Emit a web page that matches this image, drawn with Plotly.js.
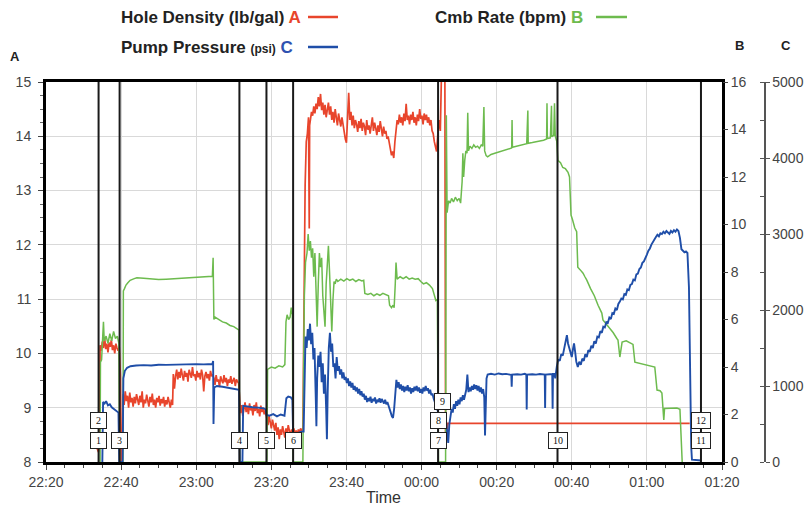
<!DOCTYPE html>
<html>
<head>
<meta charset="utf-8">
<script src="https://cdn.plot.ly/plotly-3.0.1.min.js"></script>
<style>html,body{margin:0;padding:0;background:#fff;}#chart{width:807px;height:508px;}</style>
</head>
<body>
<div id="chart"></div>
<script>
// Time is in minutes after 22:20
const timeTickMinutes = [0, 20, 40, 60, 80, 100, 120, 140, 160, 180];
const timeTickLabels = ['22:20', '22:40', '23:00', '23:20', '23:40', '00:00', '00:20', '00:40', '01:00', '01:20'];

const eventTimes  = [14.0, 14.0, 19.6, 51.5, 58.7, 65.8, 104.4, 104.4, 105.6, 136.2, 174.4, 174.4];
const eventLabels = ['1', '2', '3', '4', '5', '6', '7', '8', '9', '10', '11', '12'];
const eventLineTimes = [14.0, 19.6, 51.5, 58.7, 65.8, 104.4, 136.2, 174.4];

// Hole Density (lb/gal) — axis A  [minute, value]
const holeDensity = [
[13.6,8.25],[14.0,8.18],[14.3,8.3],
[14.4,10.15],[14.7,10.05],[15.0,10.22],[15.3,10.1],[15.6,10.3],[15.9,10.08],[16.2,10.18],[16.5,10.02],[16.8,10.2],[17.1,10.12],[17.4,10.25],[17.7,10.06],[18.0,10.15],[18.3,10.0],[18.6,10.18],[18.9,10.1],[19.2,10.05],[19.5,10.12],
[19.8,9.6],[20.0,8.0],[20.3,8.05],
[20.5,9.25],[20.8,9.05],[21.1,9.3],[21.4,9.12],[21.7,9.22],[22.0,9.0],[22.3,9.28],[22.6,9.1],[22.9,9.18],[23.2,9.02],[23.5,9.2],[23.8,9.08],[24.1,9.25],[24.4,9.12],[24.7,9.05],[25.0,9.22],[25.3,9.1],[25.6,9.3],[25.9,9.0],[26.2,9.15],[26.5,9.08],[26.8,9.24],[27.1,9.12],[27.4,9.02],[27.7,9.2],[28.0,9.1],[28.3,9.26],[28.6,9.05],[28.9,9.15],[29.2,9.0],[29.5,9.18],[29.8,9.1],[30.1,9.22],[30.4,9.04],[30.7,9.16],[31.0,9.08],[31.3,9.2],[31.6,9.02],[31.9,9.14],[32.2,9.06],[32.5,9.2],[32.8,9.1],[33.1,9.0],[33.4,9.15],[33.7,9.05],
[33.9,9.62],[34.2,9.35],[34.5,9.58],[34.8,9.7],[35.1,9.52],[35.4,9.66],[35.7,9.55],[36.0,9.72],[36.3,9.6],[36.6,9.5],[36.9,9.68],[37.2,9.57],[37.5,9.64],[37.8,9.48],[38.1,9.7],[38.4,9.6],[38.7,9.55],[39.0,9.75],[39.3,9.58],[39.6,9.62],[39.9,9.5],[40.2,9.68],[40.5,9.56],[40.8,9.64],[41.1,9.52],[41.4,9.7],[41.7,9.6],[42.0,9.3],[42.3,9.58],[42.6,9.66],[42.9,9.54],[43.2,9.62],[43.5,9.5],[43.8,9.68],[44.1,9.58],[44.4,9.6],
[44.7,9.55],[45.0,9.42],[45.3,9.6],[45.6,9.48],[45.9,9.52],[46.2,9.38],[46.5,9.58],[46.8,9.5],[47.1,9.45],[47.4,9.6],[47.7,9.47],[48.0,9.55],[48.3,9.4],[48.6,9.52],[48.9,9.46],[49.2,9.58],[49.5,9.44],[49.8,9.5],[50.1,9.55],[50.4,9.4],[50.7,9.52],[51.0,9.48],[51.3,9.45],
[51.8,8.9],[52.1,9.05],[52.4,8.85],[52.7,8.98],[53.0,9.1],[53.3,8.92],[53.6,9.02],[53.9,8.88],[54.2,9.08],[54.5,8.95],[54.8,9.0],[55.1,8.86],[55.4,9.05],[55.7,8.94],[56.0,9.1],[56.3,8.9],[56.6,8.98],[56.9,8.84],[57.2,9.04],[57.5,8.92],[57.8,9.0],[58.1,8.88],[58.4,8.95],
[58.8,8.8],[59.1,8.68],[59.4,8.85],[59.7,8.72],[60.0,8.62],[60.3,8.78],[60.6,8.66],[60.9,8.58],[61.2,8.72],[61.5,8.5],[61.8,8.64],[62.1,8.42],[62.4,8.6],[62.7,8.5],[63.0,8.66],[63.3,8.55],[63.6,8.45],[63.9,8.62],[64.2,8.52],[64.5,8.68],[64.8,8.56],[65.1,8.48],[65.4,8.6],[65.7,8.52],[66.0,8.62],[66.3,8.5],[66.6,8.58],[66.9,8.48],[67.2,8.6],[67.5,8.54],[67.8,8.62],[68.1,8.56],
[68.4,8.6],[68.6,10.5],[68.8,12.8],[69.0,13.1],[69.3,13.9],[69.6,14.05],[69.9,14.35],[70.1,12.3],[70.2,14.2],
[70.4,14.3],[70.7,14.45],[71.0,14.38],[71.3,14.55],[71.6,14.42],[71.9,14.6],[72.2,14.5],
[72.5,14.72],[72.8,14.55],[73.1,14.78],[73.4,14.48],[73.7,14.62],[74.0,14.4],
[74.3,14.58],[74.6,14.35],[74.9,14.5],[75.2,14.62],[75.5,14.4],[75.8,14.55],[76.1,14.3],
[76.4,14.45],[76.7,14.25],[77.0,14.5],[77.3,14.35],[77.6,14.2],[77.9,14.42],[78.2,14.3],
[78.5,14.18],[78.8,14.35],[79.1,14.22],[79.4,14.05],[79.7,13.95],[80.0,13.88],
[80.3,14.4],[80.6,14.8],[80.9,14.3],[81.2,14.45],[81.5,14.2],[81.8,14.38],
[82.1,14.15],[82.4,14.3],[82.7,14.22],[83.0,14.08],[83.3,14.28],[83.6,14.15],[83.9,14.32],
[84.2,14.1],[84.5,14.25],[84.8,14.18],[85.1,14.02],[85.4,14.3],[85.7,14.12],[86.0,14.2],
[86.3,14.05],[86.6,14.22],[86.9,14.35],[87.2,14.1],[87.5,14.25],[87.8,14.15],[88.1,14.02],
[88.4,14.2],[88.7,14.08],[89.0,14.28],[89.3,14.12],[89.6,14.0],[89.9,14.18],[90.2,14.05],
[90.5,14.1],[90.8,13.95],[91.1,14.0],[91.4,13.85],[91.7,13.78],[92.0,13.65],[92.3,13.72],
[92.6,13.6],[92.9,13.9],[93.2,14.1],[93.5,14.3],[93.8,14.22],[94.1,14.4],[94.4,14.25],
[94.7,14.35],[95.0,14.2],[95.3,14.42],[95.6,14.28],[95.9,14.6],[96.2,14.3],[96.5,14.38],
[96.8,14.22],[97.1,14.4],[97.4,14.3],[97.7,14.45],[98.0,14.25],[98.3,14.35],[98.6,14.2],
[98.9,14.4],[99.2,14.28],[99.5,14.5],[99.8,14.32],[100.1,14.38],[100.4,14.22],[100.7,14.42],
[101.0,14.3],[101.3,14.4],[101.6,14.25],[101.9,14.35],[102.2,14.2],[102.5,14.3],[102.8,14.1],
[103.1,14.05],[103.4,13.9],[103.7,13.8],[104.0,13.72],
[104.3,14.0],[104.6,14.3],[105.0,14.1],[105.4,15.5],[106.2,15.5],[106.4,8.3],[107.0,8.71],[171.4,8.71]
];

// Cmb Rate (bpm) — axis B  [minute, value]
const cmbRate = [
[14.4,0],[14.5,4.2],[14.8,4.3],[15.1,5.0],[15.3,5.9],[15.5,5.1],[16.0,5.3],[16.5,5.0],[17.0,5.4],[17.5,5.1],[18.0,5.5],[18.5,5.2],[19.0,5.3],[19.4,5.0],[19.6,0],
[20.5,0],[20.6,7.2],[20.9,7.3],[21.3,7.45],[21.8,7.55],[22.4,7.65],[23.5,7.72],[24.2,7.76],[26.0,7.74],[28.0,7.7],[30.0,7.68],[32.0,7.7],[34.0,7.72],[36.0,7.74],[38.0,7.76],[40.0,7.78],[42.0,7.8],[44.3,7.82],[44.5,8.6],[44.7,6.0],[45.0,6.1],[46.0,6.0],[47.0,5.9],[48.0,5.85],[49.0,5.75],[50.0,5.7],[51.0,5.6],[51.4,5.55],[51.6,0],
[58.8,0],[59.0,3.9],[60.0,4.0],[61.0,3.95],[62.0,4.05],[63.0,4.0],[63.6,4.1],[63.9,5.9],[64.2,6.2],[64.6,6.0],[65.0,6.1],[65.3,6.5],[65.6,6.2],[65.8,0],
[68.4,0],[68.6,4.0],[68.8,7.0],[69.1,8.4],[69.5,8.8],[69.8,9.6],[70.1,8.9],[70.4,9.3],[70.7,8.6],[71.0,9.0],[71.3,7.8],[71.6,8.8],[71.9,6.5],[72.2,5.7],[72.5,7.5],[72.8,8.8],[73.1,8.2],[73.4,8.6],[73.7,7.0],[74.0,6.2],[74.3,5.7],[74.6,7.5],[74.9,8.5],[75.2,9.1],[75.5,8.0],[75.8,6.5],[76.1,5.5],[76.4,6.8],[76.7,7.6],[77.0,7.5],[77.3,7.7],
[77.7,7.6],[78.5,7.7],[79.3,7.62],[80.1,7.72],[80.9,7.65],[81.7,7.7],[82.5,7.6],[83.3,7.68],[84.1,7.62],[84.6,7.65],[84.9,7.1],[85.7,7.05],[86.5,7.1],[87.3,7.0],[88.1,7.08],[88.9,7.02],[89.7,7.1],[90.5,7.05],[91.2,7.0],[91.5,6.6],[92.0,6.5],[92.4,6.6],[92.7,6.5],[93.0,7.5],[93.2,8.4],[93.5,7.7],[94.3,7.8],[95.1,7.72],[95.9,7.8],[96.7,7.7],[97.5,7.75],[98.3,7.7],[99.1,7.72],[99.8,7.6],[100.5,7.5],[101.3,7.55],[102.1,7.45],[102.9,7.3],[103.4,7.0],[103.8,6.8],[104.2,6.85],[104.5,0],
[106.4,0],[106.6,14.6],[106.8,10.5],[107.2,11.0],[107.6,10.9],[108.0,11.1],[108.5,10.95],[109.0,11.15],[109.5,11.0],[110.0,11.1],[110.4,10.9],[110.8,11.8],[111.0,13.0],[111.2,12.0],[111.5,12.7],[111.8,13.1],[112.1,13.0],[112.3,14.7],[112.5,13.1],[112.9,13.3],[113.4,13.2],[113.9,13.35],[114.4,13.25],[114.9,13.3],[115.4,13.2],[115.9,13.35],[116.3,13.3],[116.6,14.95],[116.8,13.1],[117.2,12.9],[117.6,12.85],[118.5,12.95],[119.5,13.0],[120.5,13.05],[121.5,13.1],[122.5,13.15],[123.5,13.2],[124.0,13.22],[124.1,14.4],[124.2,13.25],[125.0,13.28],[126.0,13.32],[127.0,13.38],[128.0,13.4],[128.3,14.8],[128.4,13.42],[129.5,13.45],[130.5,13.5],[131.5,13.52],[132.5,13.55],[133.3,13.6],[133.4,15.1],[133.5,13.62],[134.3,13.65],[134.6,15.0],[134.7,13.7],[135.2,13.75],[135.4,15.1],[135.6,13.72],[136.0,13.5],
[136.3,12.7],[137.0,12.6],[137.6,12.4],[138.3,12.35],[139.0,12.2],[139.4,12.0],[139.8,10.4],[140.2,10.2],[140.8,9.85],[141.3,9.7],[141.6,8.2],[142.2,8.1],[143.0,7.95],[143.5,7.8],[144.0,7.66],[145.0,7.3],[146.0,7.0],[147.0,6.6],[148.0,6.27],[148.3,5.98],[149.0,5.85],[150.0,5.65],[151.0,5.45],[152.0,5.2],[152.3,5.14],[152.8,4.42],[153.4,5.05],[154.5,5.1],[155.5,5.0],[156.3,4.95],[156.8,4.2],[158.0,4.15],[159.5,4.1],[161.0,4.05],[162.1,4.0],[162.7,3.03],[163.5,3.0],[164.0,2.9],[164.3,2.19],[164.5,1.77],[164.7,2.25],[166.5,2.25],[168.0,2.27],[168.8,2.22],[169.0,1.5],[169.4,0]
];

// Pump Pressure (psi) — axis C  [minute, value]
const pumpPressure = [
[15.0,0],[15.2,790],[15.6,770],[16.0,800],[16.5,745],[17.0,760],[17.5,720],[18.0,700],[18.5,680],[19.0,665],[19.3,650],[19.5,0],
[20.4,0],[20.6,1100],[21.0,1200],[21.6,1240],[22.5,1260],[24.0,1270],[26.0,1275],[28.0,1270],[30.0,1280],[32.0,1278],[34.0,1282],[36.0,1285],[38.0,1280],[40.0,1288],[42.0,1285],[44.3,1290],
[44.5,1330],[44.6,500],[44.8,980],[45.5,1000],[47.0,990],[49.0,975],[51.0,960],[51.4,950],[51.6,0],
[52.3,0],[52.5,740],[53.5,730],[55.0,720],[56.5,715],[58.0,705],[58.5,690],[58.7,620],[59.5,610],[60.5,630],[61.5,600],[62.5,625],[63.5,610],[64.0,840],[64.5,860],[65.2,850],[65.6,820],[65.8,380],[67.0,380],[68.0,400],
[68.6,400],[68.9,1200],[69.1,1650],[69.4,1500],[69.7,1750],[70.0,1600],[70.3,1820],[70.6,1550],[70.9,1700],[71.2,1350],[71.5,1500],[71.8,900],[72.0,470],[72.2,1100],[72.5,1400],[72.8,1250],[73.1,1450],[73.4,1050],[73.7,1300],[74.0,900],[74.3,1150],[74.6,700],[74.8,300],[75.0,900],[75.3,1500],[75.6,1700],[75.9,1450],[76.2,1560],[76.5,1250],[76.8,1300],[77.1,1100],[77.4,1380],
[77.7,1200],[78.0,1260],[78.3,1150],[78.6,1220],[78.9,1100],[79.2,1180],[79.5,1080],[79.8,1120],[80.1,1040],[80.4,1100],[80.7,1000],[81.0,1060],[81.3,980],[81.6,1040],[81.9,950],[82.2,1000],[82.5,930],[82.8,980],[83.1,900],[83.4,960],[83.7,880],[84.0,930],[84.3,860],[84.6,900],
[84.9,820],[85.2,870],[85.5,790],[85.8,840],[86.1,800],[86.4,860],[86.7,780],[87.0,830],[87.3,800],[87.6,850],[87.9,770],[88.2,820],[88.5,790],[88.8,840],[89.1,780],[89.4,830],[89.7,800],[90.0,770],[90.3,820],[90.6,760],[90.9,790],[91.2,730],[91.5,700],[91.8,650],[92.1,600],[92.4,580],[92.7,700],
[93.0,950],[93.3,1080],[93.6,980],[93.9,1050],[94.2,960],[94.5,1020],[94.8,940],[95.1,1000],[95.4,920],[95.7,990],[96.0,940],[96.3,1010],[96.6,930],[96.9,980],[97.2,900],[97.5,970],[97.8,920],[98.1,990],[98.4,940],[98.7,1000],[99.0,930],[99.3,980],[99.6,910],[99.9,960],[100.2,900],[100.5,980],[100.8,930],[101.1,1000],[101.4,940],[101.7,970],[102.0,900],[102.3,950],[102.6,880],[102.9,900],[103.2,840],[103.5,800],[103.8,760],[104.1,720],
[104.4,680],[104.8,600],[105.2,650],[105.6,520],[106.0,450],[106.4,600],[106.8,380],[107.1,250],[107.4,500],[107.7,620],
[108.0,700],[108.3,650],[108.6,760],[108.9,700],[109.2,800],[109.5,740],[109.8,820],[110.1,760],[110.4,850],[110.7,800],[111.0,880],[111.3,820],[111.6,900],[111.9,950],[112.2,1150],[112.5,920],[112.8,980],[113.1,930],[113.4,1000],[113.7,950],[114.0,1020],[114.3,960],[114.6,1010],[114.9,940],[115.2,1000],[115.5,920],[115.8,980],[116.1,900],[116.4,960],[116.7,850],[116.9,350],[117.1,700],[117.3,1100],
[117.6,1150],[118.5,1160],[119.5,1150],[120.5,1165],[121.5,1155],[122.5,1160],[123.5,1150],[123.9,1145],[124.0,990],[124.1,1150],[125.5,1155],[126.5,1150],[127.5,1160],[127.9,1150],[128.0,690],[128.1,1150],[129.5,1155],[130.5,1150],[131.5,1158],[132.5,1150],[132.8,1150],[132.9,710],[133.0,1150],[134.2,1155],[134.8,1155],[134.9,700],[135.0,1160],[135.4,1160],[135.6,1100],
[136.0,1250],[136.4,1350],[136.8,1330],[137.2,1420],[137.6,1400],[138.0,1520],[138.4,1600],[138.7,1670],[139.0,1560],[139.3,1500],[139.6,1430],[140.0,1380],[140.3,1480],[140.6,1560],[140.9,1450],[141.2,1320],[141.6,1250],[142.0,1320],[142.4,1280],[142.8,1360],[143.2,1330],
[143.6,1420],[144.0,1380],[144.4,1470],[144.8,1450],[145.2,1530],[145.6,1500],[146.0,1590],[146.4,1560],[146.8,1650],[147.2,1640],[147.6,1720],[148.0,1700],[148.4,1780],[148.8,1770],[149.2,1840],[149.6,1830],[150.0,1900],[150.4,1880],[150.8,1960],[151.2,1950],[151.6,2020],[152.0,2000],[152.4,2080],[152.8,2110],[153.2,2150],[153.6,2140],[154.0,2210],[154.4,2200],[154.8,2270],[155.2,2260],[155.6,2330],[156.0,2340],[156.4,2400],[156.8,2390],[157.2,2470],[157.6,2480],[158.0,2540],[158.4,2560],[158.8,2620],[159.2,2640],[159.6,2700],[160.0,2730],[160.4,2780],[160.8,2810],[161.2,2860],[161.6,2900],[162.0,2930],[162.4,2960],[162.8,2990],[163.2,2970],[163.6,3010],[164.0,3000],[164.4,3030],[164.8,3010],[165.2,3040],[165.6,3020],[166.0,3000],[166.4,3040],[166.8,3020],[167.2,3050],[167.6,3030],[168.0,3060],[168.4,3040],[168.8,2950],[169.2,2800],[169.6,2780],[170.0,2760],[170.4,2770],[170.8,2750],[171.2,2300],[171.5,1000],[171.8,200],[172.0,30],[174.5,20]
];

const RED = '#e8452c', GREEN = '#6dbb4e', BLUE = '#1f4ea8';
const FONT = 'Liberation Sans, Arial, sans-serif';

const traces = [
  {x: cmbRate.map(p => p[0]), y: cmbRate.map(p => p[1]), yaxis: 'y2', type: 'scatter', mode: 'lines',
   line: {color: GREEN, width: 1.5}, hoverinfo: 'skip'},
  {x: pumpPressure.map(p => p[0]), y: pumpPressure.map(p => p[1]), yaxis: 'y3', type: 'scatter', mode: 'lines',
   line: {color: BLUE, width: 1.9}, hoverinfo: 'skip'},
  {x: holeDensity.map(p => p[0]), y: holeDensity.map(p => p[1]), yaxis: 'y', type: 'scatter', mode: 'lines',
   line: {color: RED, width: 1.7}, hoverinfo: 'skip'}
];

const plotW = 807 - 46 - 10;
const px = v => (v - 46) / plotW;         // page pixel -> paper x
const py = v => (462 - v) / 380;          // page pixel -> paper y

const shapes = eventLineTimes.map(t => ({
  type: 'line', xref: 'x', yref: 'paper', x0: t, x1: t, y0: 0, y1: 1,
  line: {color: '#1a1a1a', width: 2}, layer: 'above'
}));
shapes.push(
  {type: 'line', xref: 'paper', yref: 'paper', x0: px(308), x1: px(338), y0: py(17), y1: py(17), line: {color: RED, width: 2.5}},
  {type: 'line', xref: 'paper', yref: 'paper', x0: px(308), x1: px(338), y0: py(47), y1: py(47), line: {color: BLUE, width: 2.5}},
  {type: 'line', xref: 'paper', yref: 'paper', x0: px(596), x1: px(627), y0: py(17), y1: py(17), line: {color: GREEN, width: 2.5}}
);

const boxLevels = [8.405, 8.76, 8.405, 8.405, 8.405, 8.405, 8.405, 8.76, 9.11, 8.405, 8.405, 8.76];
const annotations = eventLabels.map((lab, i) => ({
  x: eventTimes[i], y: boxLevels[i], xref: 'x', yref: 'y', text: lab, showarrow: false,
  font: {family: 'Liberation Serif, Times New Roman, serif', size: 10, color: '#111'},
  bgcolor: '#ffffff', bordercolor: '#222', borderwidth: 1, borderpad: 1,
  width: lab.length > 1 ? 16 : 13, height: 13
}));
const legFont = {family: FONT, size: 17, color: '#222'};
annotations.push(
  {xref: 'paper', yref: 'paper', x: px(303), y: py(17), xanchor: 'right', yanchor: 'middle', showarrow: false,
   text: "<b>Hole Density (lb/gal) <span style='color:" + RED + "'>A</span></b>", font: legFont},
  {xref: 'paper', yref: 'paper', x: px(295), y: py(47), xanchor: 'right', yanchor: 'middle', showarrow: false,
   text: "<b>Pump Pressure <span style='font-size:12px'>(psi)</span> <span style='color:#2e52b0'>C</span></b>", font: legFont},
  {xref: 'paper', yref: 'paper', x: px(585), y: py(17), xanchor: 'right', yanchor: 'middle', showarrow: false,
   text: "<b>Cmb Rate (bpm) <span style='color:" + GREEN + "'>B</span></b>", font: legFont},
  {xref: 'paper', yref: 'paper', x: px(15), y: py(57), xanchor: 'center', yanchor: 'middle', showarrow: false,
   text: '<b>A</b>', font: {family: FONT, size: 13, color: '#222'}},
  {xref: 'paper', yref: 'paper', x: px(739), y: py(45), xanchor: 'center', yanchor: 'middle', showarrow: false,
   text: '<b>B</b>', font: {family: FONT, size: 13, color: '#222'}},
  {xref: 'paper', yref: 'paper', x: px(786), y: py(45), xanchor: 'center', yanchor: 'middle', showarrow: false,
   text: '<b>C</b>', font: {family: FONT, size: 13, color: '#222'}},
  {xref: 'paper', yref: 'paper', x: px(383), y: py(497), xanchor: 'center', yanchor: 'middle', showarrow: false,
   text: 'Time', font: {family: FONT, size: 16, color: '#333'}}
);

const tickFont = {family: FONT, size: 14, color: '#444'};
const layout = {
  width: 807, height: 508, autosize: false,
  margin: {l: 46, r: 10, t: 82, b: 46, pad: 0},
  paper_bgcolor: '#fff', plot_bgcolor: '#fff',
  showlegend: false,
  xaxis: {
    domain: [0, px(722)], range: [0, 180],
    tickmode: 'array', tickvals: timeTickMinutes, ticktext: timeTickLabels,
    showgrid: true, gridcolor: '#d9d9d9', gridwidth: 1, zeroline: false,
    showline: true, linecolor: '#000', linewidth: 3, mirror: true,
    ticks: 'outside', ticklen: 5, tickcolor: '#444', tickfont: tickFont,
    minor: {tickmode: 'linear', tick0: 0, dtick: 5, ticks: 'outside', ticklen: 3, tickcolor: '#444', showgrid: false}
  },
  yaxis: {
    range: [8, 15], dtick: 1, showgrid: true, gridcolor: '#d9d9d9', zeroline: false,
    showline: true, linecolor: '#000', linewidth: 3, mirror: true,
    ticks: 'outside', ticklen: 5, tickcolor: '#444', tickfont: tickFont, ticklabelstandoff: 4,
    minor: {dtick: 0.25, ticks: 'outside', ticklen: 3, tickcolor: '#666', showgrid: false}
  },
  yaxis2: {
    overlaying: 'y', side: 'right', anchor: 'x', range: [0, 16], dtick: 2,
    showgrid: false, zeroline: false, showline: false,
    ticks: 'outside', ticklen: 5, tickcolor: '#444', tickfont: tickFont
  },
  yaxis3: {
    overlaying: 'y', side: 'right', anchor: 'free', position: px(764), range: [0, 5000], dtick: 1000,
    showgrid: false, zeroline: false, showline: true, linecolor: '#555', linewidth: 1.5,
    ticks: 'outside', ticklen: 4, tickcolor: '#555', tickfont: tickFont,
    minor: {dtick: 500, ticks: 'inside', ticklen: 4, tickcolor: '#555', showgrid: false}
  },
  shapes: shapes,
  annotations: annotations
};

Plotly.newPlot('chart', traces, layout, {staticPlot: true, displayModeBar: false});
</script>
</body>
</html>
